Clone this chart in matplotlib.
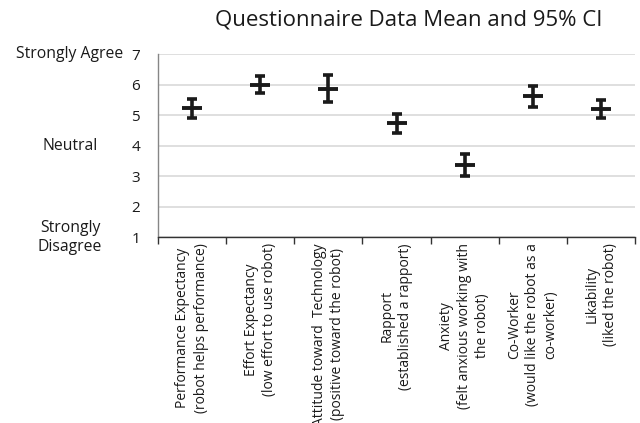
import matplotlib
matplotlib.use("Agg")
import matplotlib.pyplot as plt
import numpy as np

plt.rcParams['font.family'] = ['Open Sans', 'DejaVu Sans']

categories = [
    "Performance Expectancy\n(robot helps performance)",
    "Effort Expectancy\n(low effort to use robot)",
    "Attitude toward  Technology\n(positive toward the robot)",
    "Rapport\n(established a rapport)",
    "Anxiety\n(felt anxious working with\nthe robot)",
    "Co-Worker\n(would like the robot as a\nco-worker)",
    "Likability\n(liked the robot)",
]
means = [5.22, 6.00, 5.87, 4.73, 3.36, 5.62, 5.20]
ci_half = [0.30, 0.28, 0.43, 0.31, 0.36, 0.35, 0.30]
yticks = [1, 2, 3, 4, 5, 6, 7]
scale_labels = ["Strongly Agree", "Neutral", "Strongly\nDisagree"]
scale_pos = [7, 4, 1]

fig = plt.figure(figsize=(6.4, 4.23), dpi=100)
ax = fig.add_axes([158/640, 1-237.5/423, (635-158)/640, (237.5-54)/423])

x = np.arange(len(categories))
ink = '#1a1a1a'
ax.errorbar(x, means, yerr=ci_half, fmt='none', ecolor=ink, elinewidth=2.6,
            capsize=3.5, capthick=2.6, zorder=3)
ax.plot(x, means, linestyle='none', marker='_', markersize=14,
        markeredgewidth=2.8, color=ink, zorder=4)

ax.set_ylim(1, 7)
ax.set_xlim(-0.5, len(categories) - 0.5)
ax.set_yticks(yticks)
ax.set_yticklabels([str(v) for v in yticks], fontsize=11, color='#1a1a1a')
ax.tick_params(axis='y', length=0, pad=13)
ax.grid(axis='y', color='#d9d9d9', linewidth=1.2)
ax.set_axisbelow(True)

ax.set_xticks(x)
ax.set_xticklabels(categories, rotation=90, ha='center', va='top',
                   multialignment='center', linespacing=1.3, fontsize=10,
                   color='#1a1a1a')
ax.set_xticks(np.arange(len(categories) + 1) - 0.5, minor=True)
ax.tick_params(axis='x', which='major', length=0, pad=4)
ax.tick_params(axis='x', which='minor', length=5, width=1, color='#333333',
               direction='out')

for s in ['top', 'right']:
    ax.spines[s].set_visible(False)
ax.spines['left'].set_color('#868686')
ax.spines['left'].set_linewidth(1)
ax.spines['bottom'].set_color('#333333')
ax.spines['bottom'].set_linewidth(1)

for lab, pos in zip(scale_labels, scale_pos):
    ax.annotate(lab, xy=(0, pos), xycoords=('figure fraction', 'data'),
                xytext=(70, 0), textcoords='offset pixels',
                ha='center', va='center', fontsize=11.3, color='#1a1a1a',
                linespacing=1.3, annotation_clip=False)

fig.text(409/640, 1-20/423, "Questionnaire Data Mean and 95% CI",
         ha='center', va='center', fontsize=16, color='#1a1a1a')

fig.savefig("out.png", dpi=100)
